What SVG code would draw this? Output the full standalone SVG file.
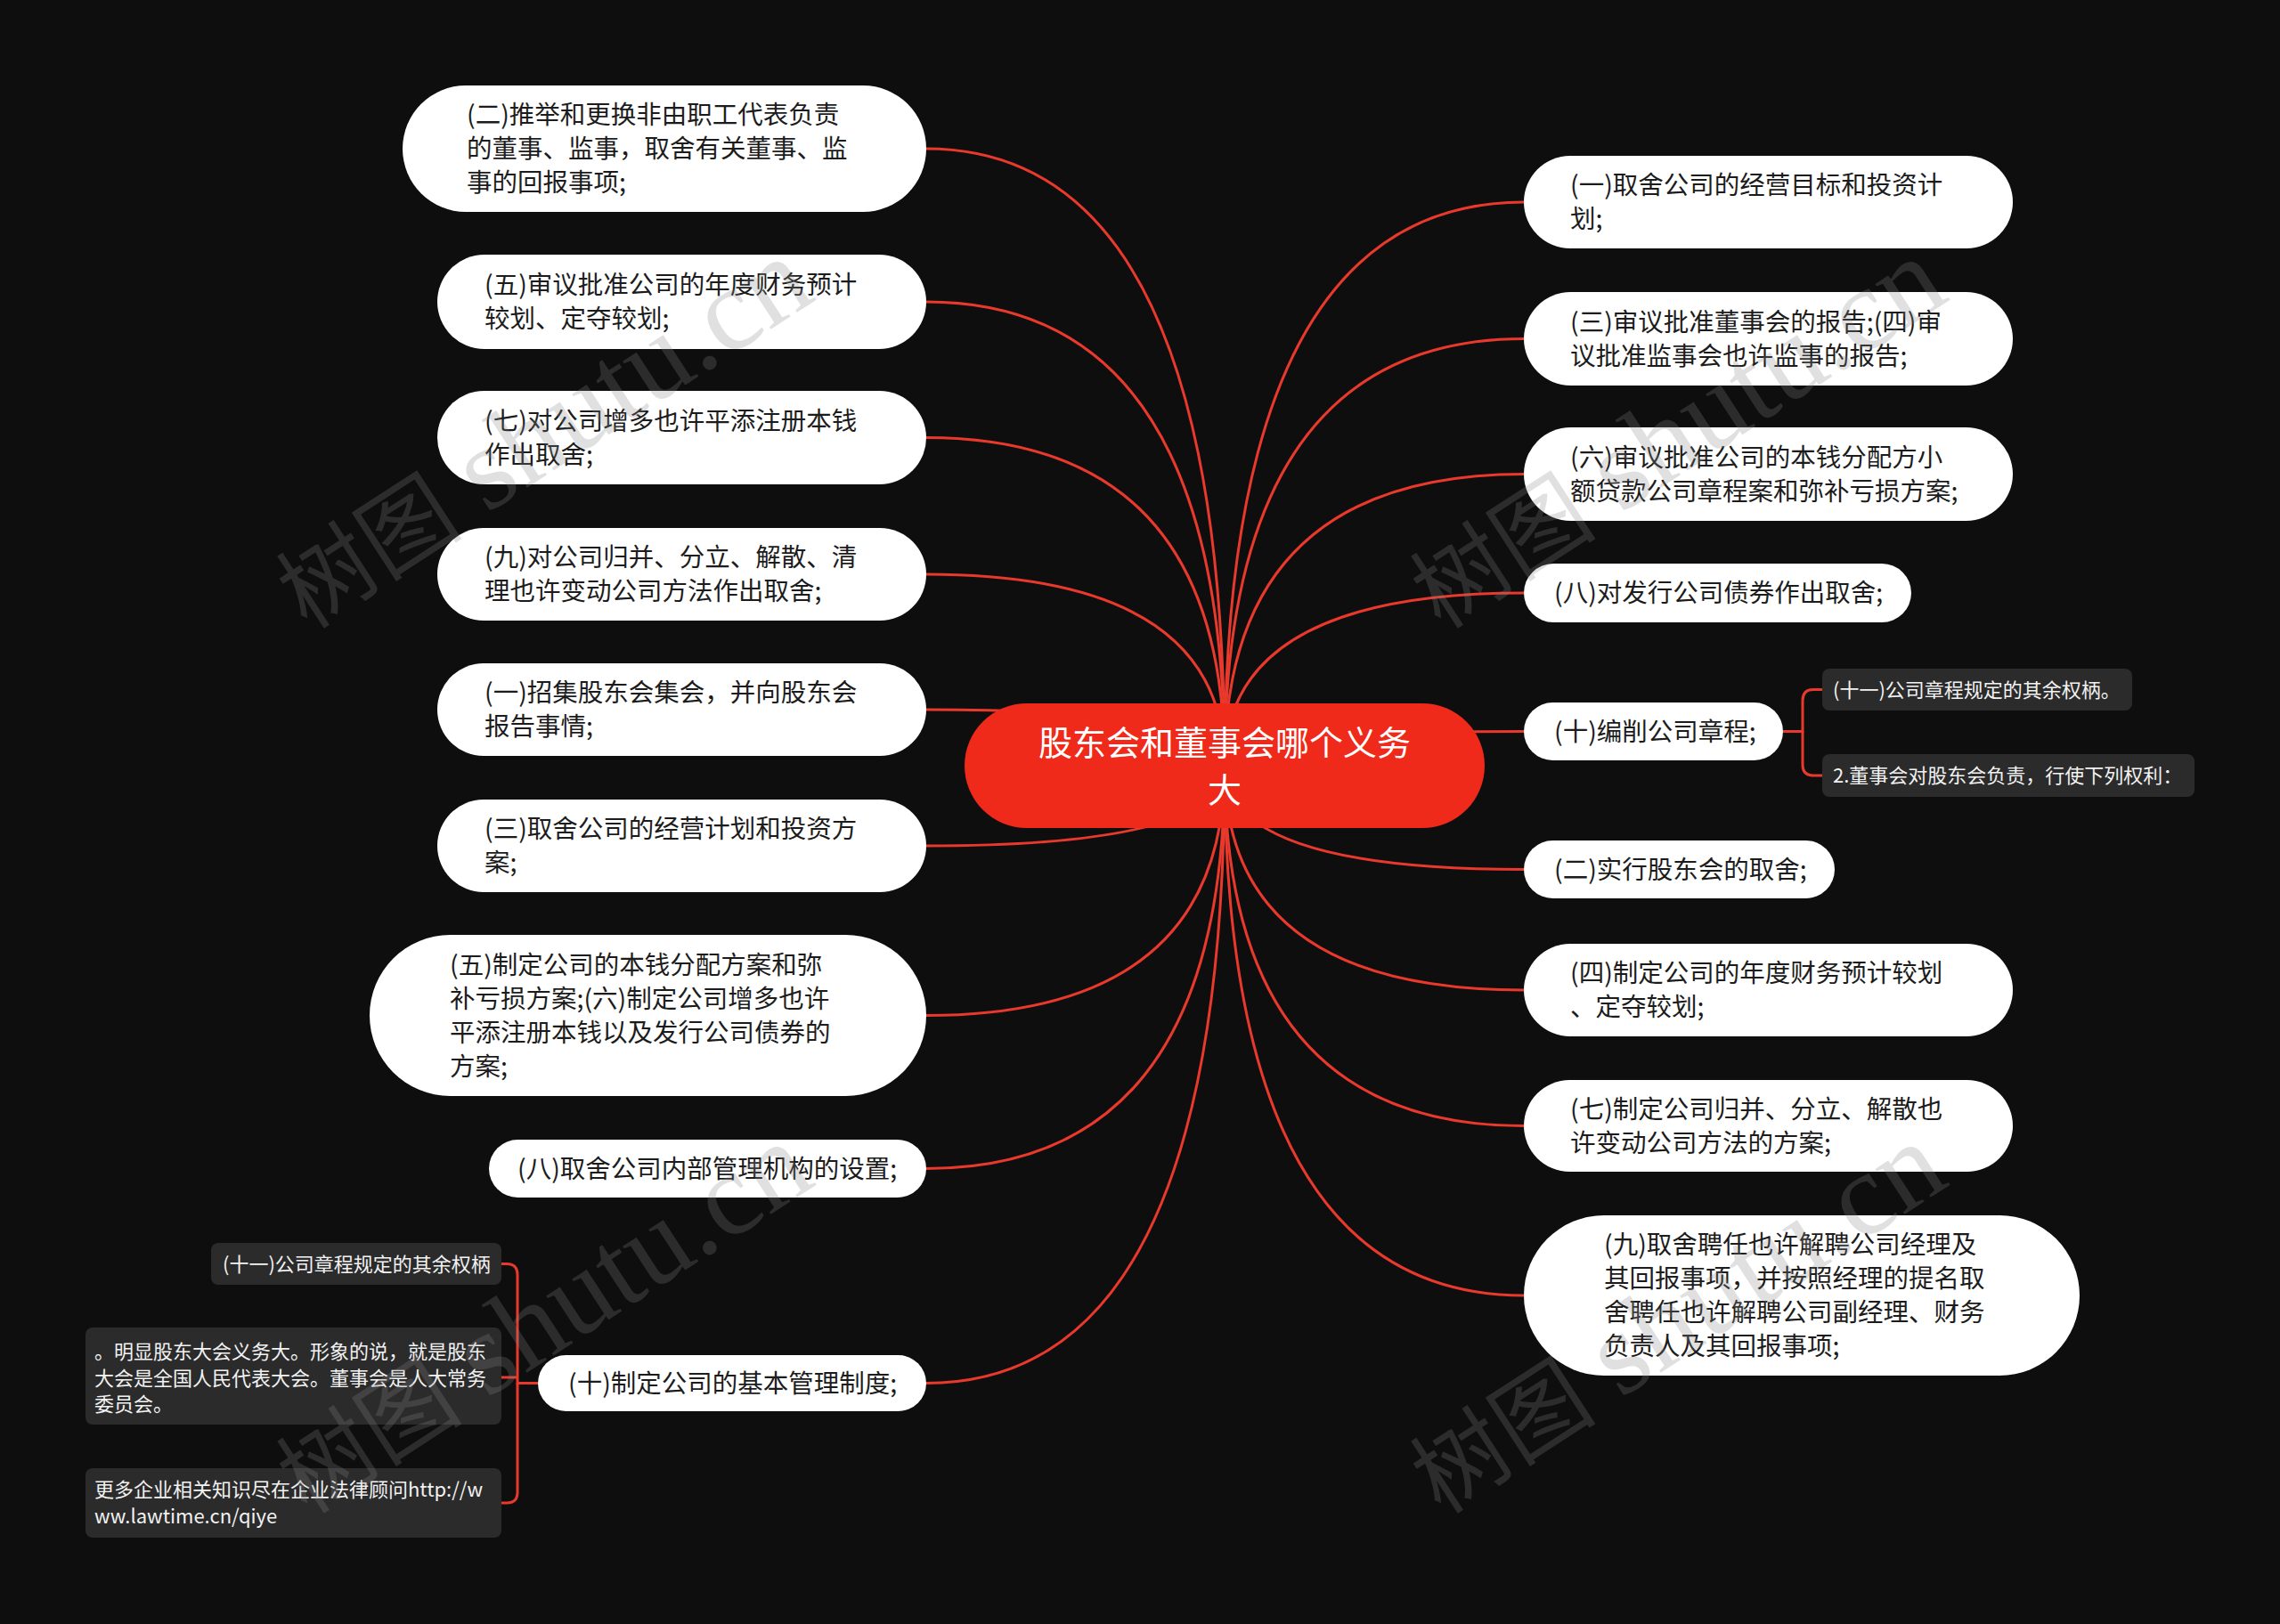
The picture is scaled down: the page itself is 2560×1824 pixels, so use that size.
<svg xmlns="http://www.w3.org/2000/svg" width="2560" height="1824" viewBox="0 0 2560 1824">
<style>
.bg{fill:#0e0e0e}
.conn{fill:none;stroke:#e8392c;stroke-width:3}
.pill{fill:#ffffff}
.t{fill:#1c1c1c;font-size:28.5px;font-family:"Noto Sans CJK SC","Noto Sans",sans-serif}
.root{fill:#ef2a1a}
.rt{fill:#ffffff;font-size:38px;font-family:"Noto Sans CJK SC","Noto Sans",sans-serif;text-anchor:middle}
.sub{fill:#2b2b2b}
.st{fill:#f2f2f2;font-size:22px;font-family:"Noto Sans CJK SC","Noto Sans",sans-serif}
.wm{fill:#888888;opacity:.25;font-family:"Liberation Serif","Noto Sans CJK SC",serif}
</style>
<rect class="bg" x="0" y="0" width="2560" height="1824"/>
<g id="connectors">
<path class="conn" d="M1375,860 Q1375,167 1040,167"/>
<path class="conn" d="M1375,860 Q1375,339 1040,339"/>
<path class="conn" d="M1375,860 Q1375,491.5 1040,491.5"/>
<path class="conn" d="M1375,860 Q1375,645 1040,645"/>
<path class="conn" d="M1375,860 Q1375,797 1040,797"/>
<path class="conn" d="M1375,860 Q1375,950 1040,950"/>
<path class="conn" d="M1375,860 Q1375,1140.5 1040,1140.5"/>
<path class="conn" d="M1375,860 Q1375,1312.5 1040,1312.5"/>
<path class="conn" d="M1375,860 Q1375,1553.5 1040,1553.5"/>
<path class="conn" d="M1375,860 Q1375,227 1711,227"/>
<path class="conn" d="M1375,860 Q1375,380.5 1711,380.5"/>
<path class="conn" d="M1375,860 Q1375,532.5 1711,532.5"/>
<path class="conn" d="M1375,860 Q1375,666 1711,666"/>
<path class="conn" d="M1375,860 Q1375,821.5 1711,821.5"/>
<path class="conn" d="M1375,860 Q1375,976.5 1711,976.5"/>
<path class="conn" d="M1375,860 Q1375,1112 1711,1112"/>
<path class="conn" d="M1375,860 Q1375,1264.5 1711,1264.5"/>
<path class="conn" d="M1375,860 Q1375,1455 1711,1455"/>
<path class="conn" d="M2002,821.5 H2024 V787 Q2024,774.5 2036,774.5 H2046"/>
<path class="conn" d="M2024,821.5 V859 Q2024,871 2036,871 H2046"/>
<path class="conn" d="M604,1553.5 H581 V1432 Q581,1419.5 569,1419.5 H563"/>
<path class="conn" d="M581,1553.5 V1676 Q581,1688 569,1688 H563"/>
<path class="conn" d="M581,1547 H563"/>
</g>
<g id="root">
<rect class="root" x="1083" y="790" width="584" height="140" rx="70"/>
<text class="rt" x="1375" y="848">股东会和董事会哪个义务</text>
<text class="rt" x="1375" y="901">大</text>
</g>
<g id="L1">
<rect class="pill" x="452" y="96" width="588" height="142" rx="71"/>
<text class="t" x="524" y="139">(二)推举和更换非由职工代表负责</text>
<text class="t" x="524" y="177">的董事、监事，取舍有关董事、监</text>
<text class="t" x="524" y="215">事的回报事项;</text>
</g>
<g id="L2">
<rect class="pill" x="491" y="286" width="549" height="106" rx="53"/>
<text class="t" x="544" y="330">(五)审议批准公司的年度财务预计</text>
<text class="t" x="544" y="368">较划、定夺较划;</text>
</g>
<g id="L3">
<rect class="pill" x="491" y="439" width="549" height="105" rx="52.5"/>
<text class="t" x="544" y="482.5">(七)对公司增多也许平添注册本钱</text>
<text class="t" x="544" y="520.5">作出取舍;</text>
</g>
<g id="L4">
<rect class="pill" x="491" y="593" width="549" height="104" rx="52"/>
<text class="t" x="544" y="636">(九)对公司归并、分立、解散、清</text>
<text class="t" x="544" y="674">理也许变动公司方法作出取舍;</text>
</g>
<g id="L5">
<rect class="pill" x="491" y="745" width="549" height="104" rx="52"/>
<text class="t" x="544" y="788">(一)招集股东会集会，并向股东会</text>
<text class="t" x="544" y="826">报告事情;</text>
</g>
<g id="L6">
<rect class="pill" x="491" y="898" width="549" height="104" rx="52"/>
<text class="t" x="544" y="941">(三)取舍公司的经营计划和投资方</text>
<text class="t" x="544" y="979">案;</text>
</g>
<g id="L7">
<rect class="pill" x="415" y="1050" width="625" height="181" rx="90.5"/>
<text class="t" x="505" y="1093.5">(五)制定公司的本钱分配方案和弥</text>
<text class="t" x="505" y="1131.5">补亏损方案;(六)制定公司增多也许</text>
<text class="t" x="505" y="1169.5">平添注册本钱以及发行公司债券的</text>
<text class="t" x="505" y="1207.5">方案;</text>
</g>
<g id="L8">
<rect class="pill" x="549" y="1280" width="491" height="65" rx="32.5"/>
<text class="t" x="581" y="1322.5">(八)取舍公司内部管理机构的设置;</text>
</g>
<g id="L9">
<rect class="pill" x="604" y="1522" width="436" height="63" rx="31.5"/>
<text class="t" x="638" y="1563.5">(十)制定公司的基本管理制度;</text>
</g>
<g id="S1">
<rect class="sub" x="237" y="1396" width="326" height="47" rx="8"/>
<text class="st" x="250" y="1427.5">(十一)公司章程规定的其余权柄</text>
</g>
<g id="S2">
<rect class="sub" x="96" y="1491" width="467" height="109" rx="8"/>
<text class="st" x="106" y="1526">。明显股东大会义务大。形象的说，就是股东</text>
<text class="st" x="106" y="1555.5">大会是全国人民代表大会。董事会是人大常务</text>
<text class="st" x="106" y="1585">委员会。</text>
</g>
<g id="S3">
<rect class="sub" x="96" y="1649" width="467" height="78" rx="8"/>
<text class="st" x="106" y="1681">更多企业相关知识尽在企业法律顾问http://w</text>
<text class="st" x="106" y="1711">ww.lawtime.cn/qiye</text>
</g>
<g id="R1">
<rect class="pill" x="1711" y="175" width="549" height="104" rx="52"/>
<text class="t" x="1763" y="218">(一)取舍公司的经营目标和投资计</text>
<text class="t" x="1763" y="256">划;</text>
</g>
<g id="R2">
<rect class="pill" x="1711" y="328" width="549" height="105" rx="52.5"/>
<text class="t" x="1763" y="371.5">(三)审议批准董事会的报告;(四)审</text>
<text class="t" x="1763" y="409.5">议批准监事会也许监事的报告;</text>
</g>
<g id="R3">
<rect class="pill" x="1711" y="480" width="549" height="105" rx="52.5"/>
<text class="t" x="1763" y="523.5">(六)审议批准公司的本钱分配方小</text>
<text class="t" x="1763" y="561.5">额贷款公司章程案和弥补亏损方案;</text>
</g>
<g id="R4">
<rect class="pill" x="1711" y="633" width="435" height="66" rx="33"/>
<text class="t" x="1745" y="676">(八)对发行公司债券作出取舍;</text>
</g>
<g id="R5">
<rect class="pill" x="1711" y="789" width="291" height="65" rx="32.5"/>
<text class="t" x="1745" y="831.5">(十)编削公司章程;</text>
</g>
<g id="T1">
<rect class="sub" x="2046" y="751" width="348" height="47" rx="8"/>
<text class="st" x="2058" y="782.5">(十一)公司章程规定的其余权柄。</text>
</g>
<g id="T2">
<rect class="sub" x="2046" y="847" width="418" height="48" rx="8"/>
<text class="st" x="2058" y="879">2.董事会对股东会负责，行使下列权利：</text>
</g>
<g id="R6">
<rect class="pill" x="1711" y="944" width="349" height="65" rx="32.5"/>
<text class="t" x="1745" y="986.5">(二)实行股东会的取舍;</text>
</g>
<g id="R7">
<rect class="pill" x="1711" y="1060" width="549" height="104" rx="52"/>
<text class="t" x="1763" y="1103">(四)制定公司的年度财务预计较划</text>
<text class="t" x="1763" y="1141">、定夺较划;</text>
</g>
<g id="R8">
<rect class="pill" x="1711" y="1213" width="549" height="103" rx="51.5"/>
<text class="t" x="1763" y="1255.5">(七)制定公司归并、分立、解散也</text>
<text class="t" x="1763" y="1293.5">许变动公司方法的方案;</text>
</g>
<g id="R9">
<rect class="pill" x="1711" y="1365" width="624" height="180" rx="90"/>
<text class="t" x="1801" y="1408">(九)取舍聘任也许解聘公司经理及</text>
<text class="t" x="1801" y="1446">其回报事项，并按照经理的提名取</text>
<text class="t" x="1801" y="1484">舍聘任也许解聘公司副经理、财务</text>
<text class="t" x="1801" y="1522">负责人及其回报事项;</text>
</g>
<g id="watermarks">
<text class="wm" transform="translate(345,708) rotate(-33)"><tspan font-size="105">树图</tspan><tspan font-size="132" dx="30">shutu.cn</tspan></text>
<text class="wm" transform="translate(1618,708) rotate(-33)"><tspan font-size="105">树图</tspan><tspan font-size="132" dx="30">shutu.cn</tspan></text>
<text class="wm" transform="translate(345,1702) rotate(-33)"><tspan font-size="105">树图</tspan><tspan font-size="132" dx="30">shutu.cn</tspan></text>
<text class="wm" transform="translate(1618,1702) rotate(-33)"><tspan font-size="105">树图</tspan><tspan font-size="132" dx="30">shutu.cn</tspan></text>
</g>
</svg>
